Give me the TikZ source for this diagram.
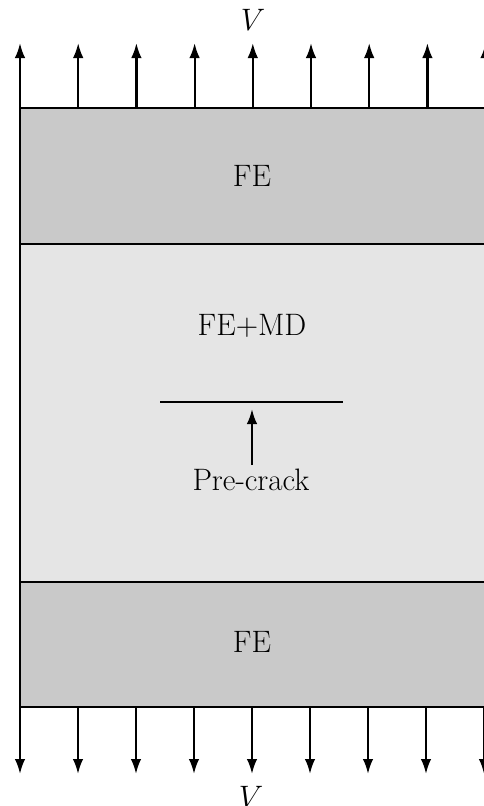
\documentclass[tikz,border=0pt]{standalone}
\usepackage{fix-cm}
\usepackage{fontspec}
\usetikzlibrary{arrows.meta}
\begin{document}
\begin{tikzpicture}[x=1pt,y=-1pt,line width=2.2pt,
  lbl/.style={font=\fontsize{31}{36}\selectfont,inner sep=0pt},
  load/.style={-{Latex[length=15pt,width=10.5pt]}},
  fezone/.style={fill=black!21,draw=black},
  mdzone/.style={fill=black!10,draw=black}]
\useasboundingbox (0,0) rectangle (483,806);
\fill[white] (0,0) rectangle (483,806);
\filldraw[mdzone] (20,244) rectangle (492,582);
\filldraw[fezone] (20,108) rectangle (492,244);
\filldraw[fezone] (20,582) rectangle (492,707);
\node[lbl] (fetop) at (252,176) {FE};
\node[lbl] (femd) at (252,326) {FE+MD};
\node[lbl] (febot) at (252,642) {FE};
\coordinate (cl) at (160,402);
\coordinate (cr) at (343,402);
\draw (cl) -- (cr);
\node[lbl,anchor=base] (pc) at (251,490) {Pre-crack};
\coordinate (ctip) at (252,409);
\draw[load] (252,465) -- (ctip);
\node[lbl] (vtop) at (253,20) {$V$};
\node[lbl] (vbot) at (251,797) {$V$};
\foreach \i in {0,...,8}{
  \coordinate (ts\i) at (20+58.2*\i,108);
  \coordinate (tt\i) at (20+58.2*\i,43);
  \draw[load] (ts\i) -- (tt\i);
  \coordinate (bs\i) at (20+58*\i,707);
  \coordinate (bt\i) at (20+58*\i,774);
  \draw[load] (bs\i) -- (bt\i);
}
\end{tikzpicture}
\end{document}
